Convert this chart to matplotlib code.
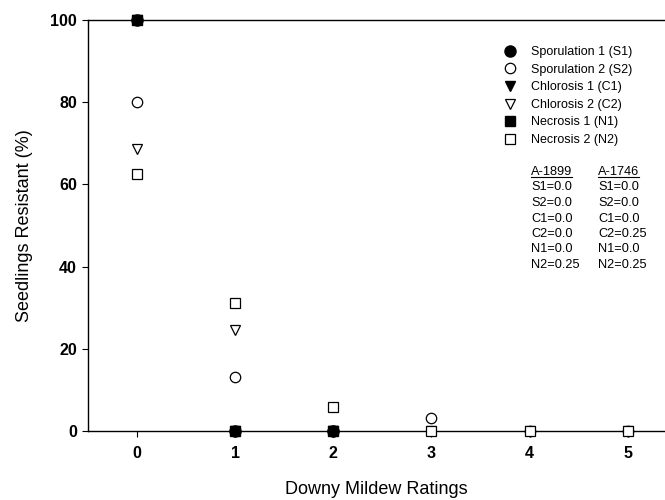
import matplotlib
matplotlib.use("Agg")
import matplotlib.pyplot as plt
from matplotlib.lines import Line2D

plt.rcParams['font.family'] = ['Liberation Sans', 'DejaVu Sans']

# Data
ratings_filled = [0, 1, 2]
ratings_open = [0, 1, 2, 3, 4, 5]
s1 = [100, 0, 0]
c1 = [100, 0, 0]
n1 = [100, 0, 0]
s2 = [80, 13.2, 0, 3.2, 0, 0]
c2 = [68.7, 24.6, 0, 0, 0, 0]
n2 = [62.5, 31.1, 5.9, 0, 0, 0]

labels = ["Sporulation 1 (S1)", "Sporulation 2 (S2)", "Chlorosis 1 (C1)",
          "Chlorosis 2 (C2)", "Necrosis 1 (N1)", "Necrosis 2 (N2)"]
col1_head = "A-1899"
col1 = ["S1=0.0", "S2=0.0", "C1=0.0", "C2=0.0", "N1=0.0", "N2=0.25"]
col2_head = "A-1746"
col2 = ["S1=0.0", "S2=0.0", "C1=0.0", "C2=0.25", "N1=0.0", "N2=0.25"]
xticks = [0, 1, 2, 3, 4, 5]
yticks = [0, 20, 40, 60, 80, 100]

W, H = 665, 500
fig = plt.figure(figsize=(W/100, H/100), dpi=100)
ax = fig.add_axes([88/W, 1 - 431/H, 1 - 88/W, (431 - 20)/H])

open_kw = dict(mfc='white', mec='black', mew=0.9, ls='none', zorder=3, clip_on=False)
h_s2, = ax.plot(ratings_open, s2, 'o', ms=7.5, **open_kw)
h_c2, = ax.plot(ratings_open, c2, 'v', ms=7.5, **open_kw)
h_n2, = ax.plot(ratings_open, n2, 's', ms=7, **open_kw)
h_n1, = ax.plot(ratings_filled, n1, 's', ms=6.5, color='black', ls='none', zorder=4, clip_on=False)
h_c1, = ax.plot(ratings_filled, c1, 'v', ms=7.5, color='black', ls='none', zorder=4, clip_on=False)
h_s1, = ax.plot(ratings_filled, s1, 'o', ms=8, color='black', ls='none', zorder=5, clip_on=False)

ax.set_xlim(-0.5, 5.38)
ax.set_ylim(0, 100)
ax.set_xticks(xticks)
ax.set_yticks(yticks)
ax.set_xticklabels([str(v) for v in xticks], fontsize=11.5, fontweight='bold')
ax.set_yticklabels([str(v) for v in yticks], fontsize=11.5, fontweight='bold')
ax.tick_params(direction='out', length=4, width=0.8, pad=4)
ax.tick_params(axis='x', pad=7)
for sp in ('left', 'bottom', 'top'):
    ax.spines[sp].set_linewidth(1.0)
ax.spines['right'].set_visible(False)

ax.set_xlabel("Downy Mildew Ratings", fontsize=13, labelpad=14)
ax.set_ylabel("Seedlings Resistant (%)", fontsize=13, labelpad=12)

handles = [h_s1, h_s2, h_c1, h_c2, h_n1, h_n2]
leg = fig.legend(handles, labels, loc='upper left', bbox_to_anchor=(497/W, 1 - 41/H),
                 frameon=False, fontsize=9, handlelength=1.2, handletextpad=1.1,
                 labelspacing=0.45, borderaxespad=0, numpoints=1)

# Table of values
fs = 9.2
y0 = 172
dy = 15.5
x1, x2 = 531, 598
t1 = fig.text(x1/W, 1 - y0/H, col1_head, fontsize=fs, va='center', ha='left')
t2 = fig.text(x2/W, 1 - y0/H, col2_head, fontsize=fs, va='center', ha='left')
for i, (a, b) in enumerate(zip(col1, col2)):
    yy = 1 - (y0 + dy * (i + 1))/H
    fig.text(x1/W, yy, a, fontsize=fs, va='center', ha='left')
    fig.text(x2/W, yy, b, fontsize=fs, va='center', ha='left')

fig.canvas.draw()
r = fig.canvas.get_renderer()
for t in (t1, t2):
    bb = t.get_window_extent(r)
    yl = (bb.y0 + 1) / H
    fig.add_artist(Line2D([bb.x0/W, bb.x1/W], [yl, yl], color='black', lw=0.8))

fig.savefig("out.png", dpi=100)
